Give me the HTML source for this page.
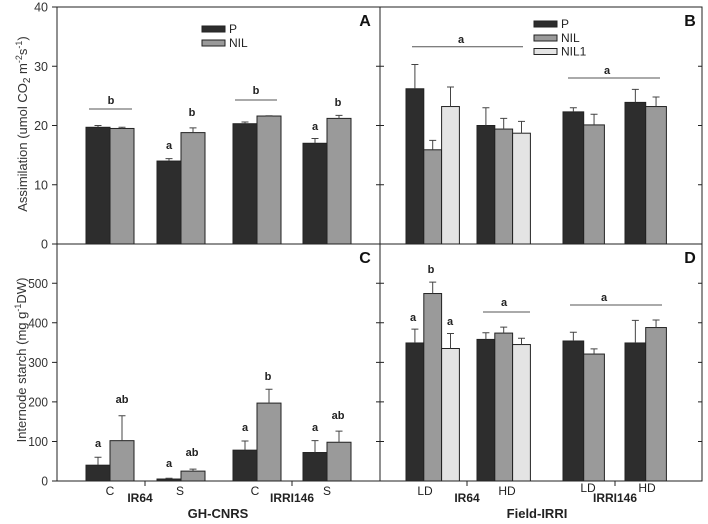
<!DOCTYPE html>
<html><head><meta charset="utf-8"><style>
body{margin:0;background:#fff}
svg{display:block;font-family:"Liberation Sans",Arial,sans-serif}
</style></head><body>
<svg id="c" width="708" height="524" viewBox="0 0 708 524"></svg>
<script>
// ---- data ----
const aP=[19.7,14.0,20.3,17.0], aPe=[0.3,0.4,0.3,0.8];
const aN=[19.5,18.8,21.6,21.2], aNe=[0.2,0.8,0.05,0.5];
const cP=[40,5,78,72], cPe=[20,2,23,30];
const cN=[102,25,197,98], cNe=[63,5,35,28];
const bP=[26.2,20.0,22.3,23.9], bPe=[4.1,3.0,0.7,2.2];
const bN=[15.9,19.4,20.1,23.2], bNe=[1.6,1.8,1.8,1.6];
const bN1=[23.2,18.7], bN1e=[3.3,2.0];
const dP=[349,358,354,349], dPe=[35,17,22,57];
const dN=[474,374,321,388], dNe=[29,15,13,19];
const dN1=[335,345], dN1e=[38,16];
const aTicks=[0,10,20,30,40], cTicks=[0,100,200,300,400,500];
const colP="#2d2d2d", colN="#9a9a9a", colN1="#e4e4e4";
// ---- helpers ----
const S=document.getElementById('c'), NS="http://www.w3.org/2000/svg";
function mk(t,a,txt){const e=document.createElementNS(NS,t);for(const k in a)e.setAttribute(k,a[k]);if(txt!=null)e.textContent=txt;S.appendChild(e);return e;}
const yA=v=>244-v*5.925, yC=v=>481-v*0.3955;
function bar(x,w,v,err,y,col,name){
  const r=mk('rect',{x:x,y:y(v),width:w,height:y(0)-y(v),fill:col,stroke:'#222','stroke-width':1});
  
  
  const ey=y(v+err);
  const l=mk('path',{d:`M${x+w/2} ${y(v)}V${ey}M${x+w/2-3.5} ${ey}H${x+w/2+3.5}`,stroke:'#444','stroke-width':1,fill:'none'});
  
  
}
function txt(x,y,s,o){const a=Object.assign({x:x,y:y,'font-size':12,fill:'#222','text-anchor':'middle'},o||{});const e=mk('text',a,s);return e;}
function letter(x,y,s){const e=txt(x,y,s,{'font-weight':'bold','font-size':11});}
function sline(x1,x2,y){const e=mk('line',{x1:x1,x2:x2,y1:y,y2:y,stroke:'#555','stroke-width':1});}
// frames
const fr=[[57,7,323,237],[380,7,322,237],[57,244,323,237],[380,244,322,237]];
fr.forEach((f,i)=>{const r=mk('rect',{x:f[0],y:f[1],width:f[2],height:f[3],fill:'none',stroke:'#222','stroke-width':1});});
// ticks
aTicks.forEach(t=>{const y=yA(t);mk('path',{d:`M52 ${y}H57M380 ${y}H376M380 ${y}H384M702 ${y}H698`,stroke:'#222'});const e=txt(48,y+4.5,t,{'text-anchor':'end','font-size':12.5,fill:'#333'});});
cTicks.forEach(t=>{const y=yC(t);mk('path',{d:`M52 ${y}H57M380 ${y}H376M380 ${y}H384M702 ${y}H698`,stroke:'#222'});const e=txt(48,y+4.5,t,{'text-anchor':'end','font-size':12.5,fill:'#333','textLength':(String(t).length*6.6),'lengthAdjust':'spacingAndGlyphs'});});
// left panels bars
const lx=[86,157,233,303], lw=24;
for(let i=0;i<4;i++){
  bar(lx[i],lw,aP[i],aPe[i],yA,colP,'bar-a-p-'+i);
  bar(lx[i]+lw,lw,aN[i],aNe[i],yA,colN,'bar-a-nil-'+i);
  bar(lx[i],lw,cP[i],cPe[i],yC,colP,'bar-c-p-'+i);
  bar(lx[i]+lw,lw,cN[i],cNe[i],yC,colN,'bar-c-nil-'+i);
}
// right panels
const rx=[406,477,563,625], rw=[17.8,17.8,20.7,20.7];
for(let i=0;i<4;i++){
  const w=rw[i];
  bar(rx[i],w,bP[i],bPe[i],yA,colP,'bar-b-p-'+i);
  bar(rx[i]+w,w,bN[i],bNe[i],yA,colN,'bar-b-nil-'+i);
  bar(rx[i],w,dP[i],dPe[i],yC,colP,'bar-d-p-'+i);
  bar(rx[i]+w,w,dN[i],dNe[i],yC,colN,'bar-d-nil-'+i);
  if(i<2){
    bar(rx[i]+2*w,w,bN1[i],bN1e[i],yA,colN1,'bar-b-nil1-'+i);
    bar(rx[i]+2*w,w,dN1[i],dN1e[i],yC,colN1,'bar-d-nil1-'+i);
  }
}
// significance A
sline(89,132,109);letter(111,104,'b');sline(235,277,100);letter(256,94,'b');
letter(169,149,'a');letter(192,116,'b');letter(315,130,'a');letter(338,106,'b');
// B
sline(412,523,46.7);letter(461,43,'a');sline(568,660,78);letter(607,74,'a');
// C
letter(98,447,'a');letter(122,403,'ab');letter(169,467,'a');letter(192,456,'ab');
letter(245,431,'a');letter(268,380,'b');letter(315,431,'a');letter(338,419,'ab');
// D
letter(413,321,'a');letter(431,273,'b');letter(450,325,'a');
sline(483,530,312);letter(504,306,'a');sline(570,662,305);letter(604,301,'a');
// panel letters
[['A',365,26],['B',690,26],['C',365,263],['D',690,263]].forEach(p=>{const e=txt(p[1],p[2],p[0],{'font-weight':'bold','font-size':16,fill:'#111'});});
// legends
function leg(x,y,col,label){const r=mk('rect',{x:x,y:y,width:23,height:6,fill:col,stroke:'#222'});const e=txt(x+27,y+7,label,{'text-anchor':'start','font-size':12});}
leg(202,26,colP,'P');leg(202,40,colN,'NIL');
leg(534,21,colP,'P');leg(534,35,colN,'NIL');leg(534,48.5,colN1,' NIL1');
// x ticks
mk('path',{d:'M145 481V486M292 481V486M467 481V486M615 481V486',stroke:'#222'});
// x labels
[['C',110,495],['S',180,495],['C',255,495],['S',327,495],['LD',425,495],['HD',507,495],['LD',588,492],['HD',647,492]].forEach(l=>{const e=txt(l[1],l[2],l[0],{'font-size':12});});
[['IR64',140,502],['IRRI146',292,502],['IR64',467,502],['IRRI146',615,502]].forEach(l=>{const e=txt(l[1],l[2],l[0],{'font-weight':'bold','font-size':12});});
[['GH-CNRS',218,518],['Field-IRRI',537,518]].forEach(l=>{const e=txt(l[1],l[2],l[0],{'font-weight':'bold','font-size':13});});
// y titles
const t1=mk('text',{x:0,y:0,'font-size':13,fill:'#333','text-anchor':'middle',transform:'translate(27,124) rotate(-90)'});
t1.innerHTML='Assimilation (umol CO<tspan font-size="10" dy="3">2</tspan><tspan dy="-3"> m</tspan><tspan font-size="9" dy="-5">-2</tspan><tspan dy="5">s</tspan><tspan font-size="9" dy="-5">-1</tspan><tspan dy="5">)</tspan>';


const t2=mk('text',{x:0,y:0,'font-size':13,fill:'#333','text-anchor':'middle',transform:'translate(26,360) rotate(-90)'});
t2.innerHTML='Internode starch (mg g<tspan font-size="9" dy="-5">-1</tspan><tspan dy="5">DW)</tspan>';


</script>
</body></html>
